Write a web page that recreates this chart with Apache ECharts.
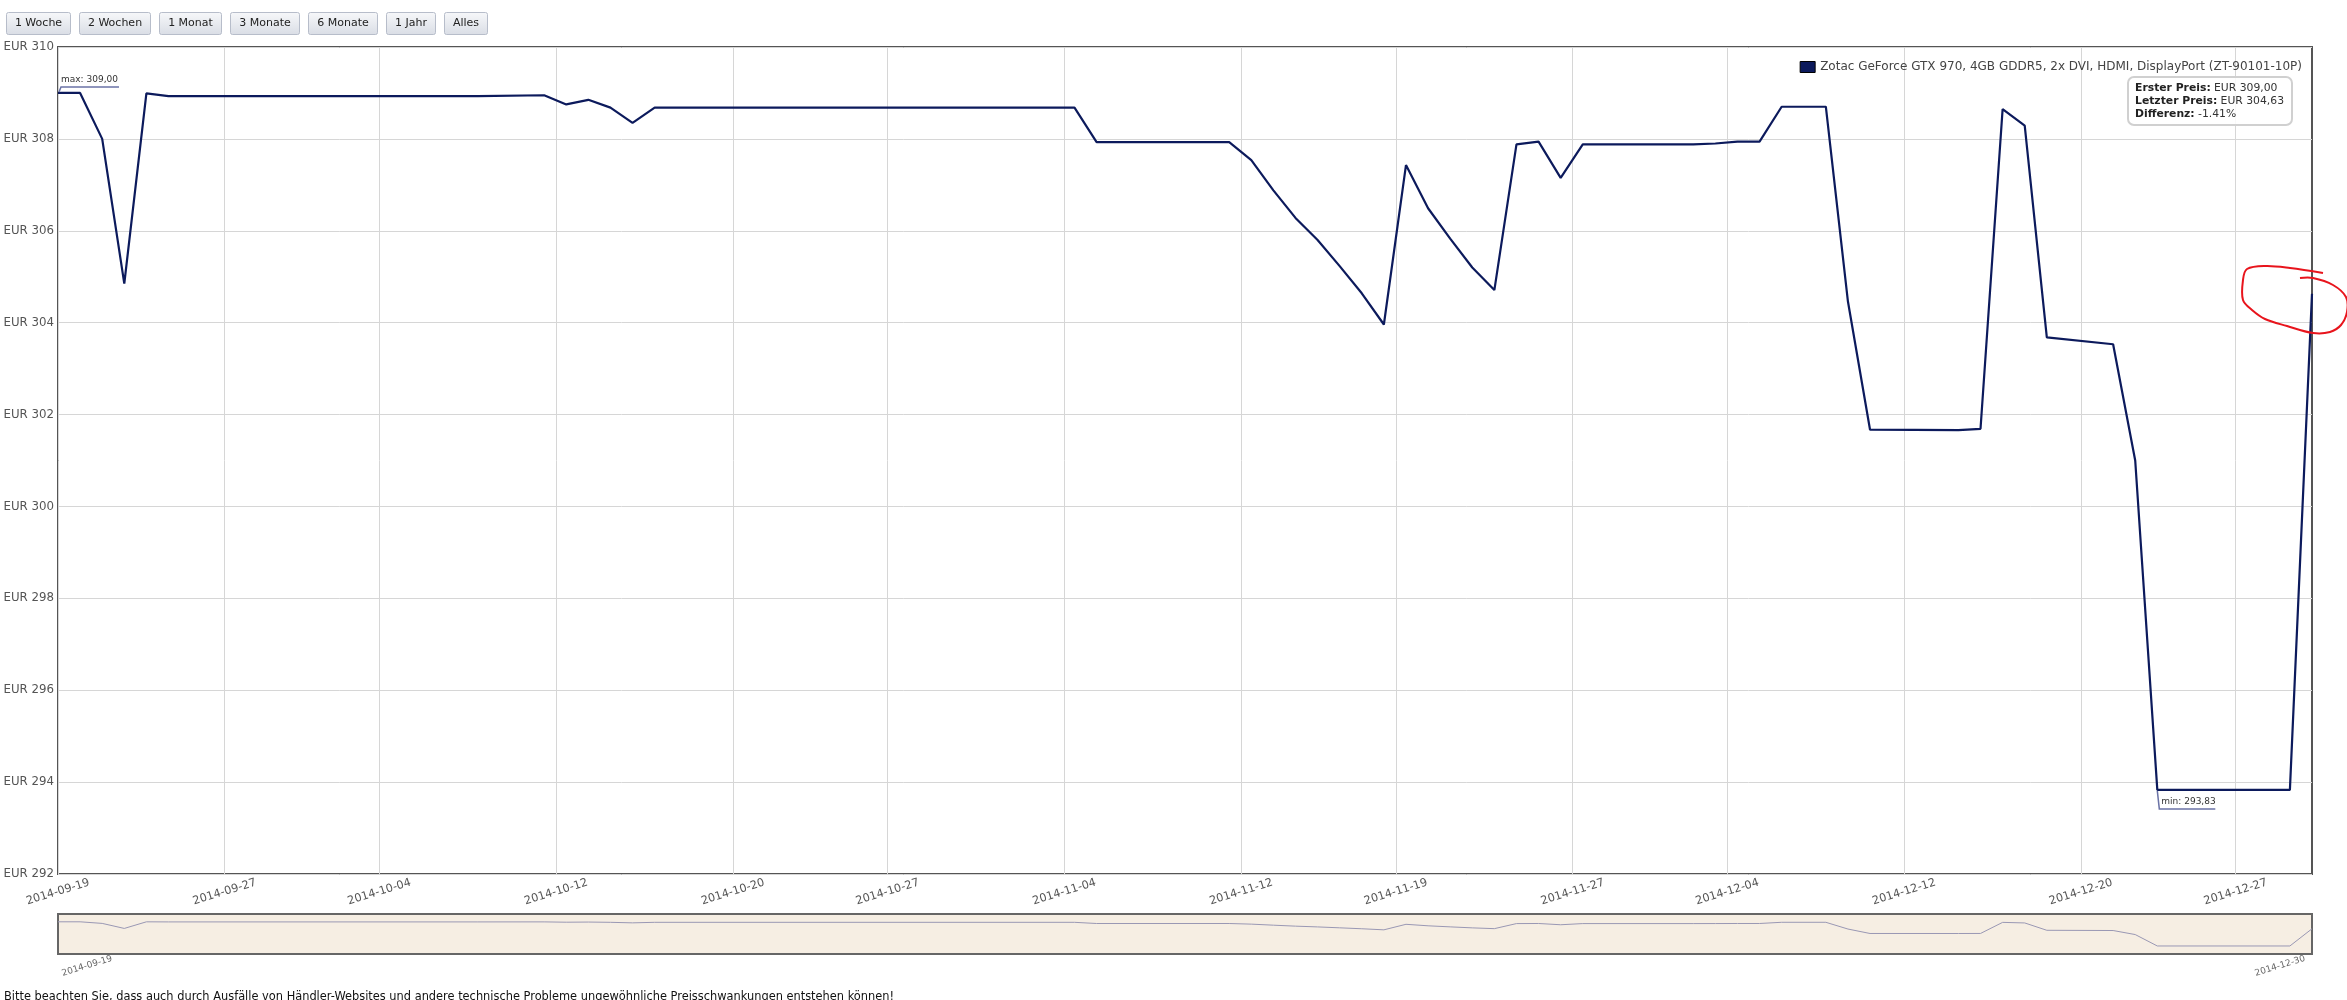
<!DOCTYPE html>
<html><head><meta charset="utf-8">
<script src="https://cdn.jsdelivr.net/npm/echarts@6/dist/echarts.min.js"></script>
<style>html,body{margin:0;padding:0;background:#fff;}#c{width:2347px;height:1000px;}</style>
</head><body><div id="c"></div>
<script>
// ---------- data ----------
const seriesName = 'Zotac GeForce GTX 970, 4GB GDDR5, 2x DVI, HDMI, DisplayPort (ZT-90101-10P)';
const dates = ['2014-09-19 11:00','2014-09-20 11:00','2014-09-21 11:00','2014-09-22 11:00','2014-09-23 11:00','2014-09-24 11:00',
  '2014-10-08 11:00','2014-10-11 11:00','2014-10-12 11:00','2014-10-13 11:00','2014-10-14 11:00','2014-10-15 11:00','2014-10-16 11:00',
  '2014-11-04 11:00','2014-11-05 11:00','2014-11-11 11:00','2014-11-12 11:00','2014-11-13 11:00','2014-11-14 11:00','2014-11-15 11:00',
  '2014-11-16 11:00','2014-11-17 11:00','2014-11-18 11:00','2014-11-19 11:00','2014-11-20 11:00','2014-11-21 11:00','2014-11-22 11:00',
  '2014-11-23 11:00','2014-11-24 11:00','2014-11-25 11:00','2014-11-26 11:00','2014-11-27 11:00','2014-12-02 11:00','2014-12-03 11:00',
  '2014-12-04 11:00','2014-12-05 11:00','2014-12-06 11:00','2014-12-08 11:00','2014-12-09 11:00','2014-12-10 11:00','2014-12-14 11:00',
  '2014-12-15 11:00','2014-12-16 11:00','2014-12-17 11:00','2014-12-18 11:00','2014-12-21 11:00','2014-12-22 11:00','2014-12-23 11:00',
  '2014-12-29 11:00','2014-12-30 11:00'];
const prices = [309.00,309.00,308.00,304.85,308.99,308.93,
  308.93,308.95,308.75,308.85,308.68,308.35,308.68,
  308.68,307.93,307.93,307.54,306.88,306.28,305.80,
  305.23,304.64,303.96,307.43,306.49,305.83,305.20,
  304.71,307.88,307.94,307.15,307.88,307.88,307.90,
  307.94,307.94,308.70,308.70,304.46,301.67,301.66,
  301.69,308.65,308.29,303.68,303.53,301.00,293.83,
  293.83,304.63];
const tickDates = ['2014-09-19 11:00','2014-09-27','2014-10-04','2014-10-12','2014-10-20','2014-10-27','2014-11-04',
  '2014-11-12','2014-11-19','2014-11-27','2014-12-04','2014-12-12','2014-12-20','2014-12-27'];
const yMin = 292, yMax = 310, yStep = 2;
const rangeButtons = ['1 Woche','2 Wochen','1 Monat','3 Monate','6 Monate','1 Jahr','Alles'];
const footnote = 'Bitte beachten Sie, dass auch durch Ausfälle von Händler-Websites und andere technische Probleme ungewöhnliche Preisschwankungen entstehen können!';

// ---------- helpers ----------
function ts(s){const m=s.match(/(\d+)-(\d+)-(\d+)(?: (\d+):(\d+))?/);return Date.UTC(+m[1],+m[2]-1,+m[3],+(m[4]||0),+(m[5]||0));}
function fmtDate(v){const d=new Date(v);const p=n=>String(n).padStart(2,'0');return d.getUTCFullYear()+'-'+p(d.getUTCMonth()+1)+'-'+p(d.getUTCDate());}
function eur(v){return v.toFixed(2).replace('.',',');}
const FONT='"DejaVu Sans", Verdana, sans-serif';
const data = dates.map((d,i)=>[ts(d),prices[i]]);
const tMin = data[0][0], tMax = data[data.length-1][0];
const ticks = tickDates.map(ts);
const first = prices[0], last = prices[prices.length-1];
const diff = (last-first)/first*100;

const chart = echarts.init(document.getElementById('c'),null,{renderer:'canvas'});
const option = {
  animation:false,
  backgroundColor:'#fff',
  textStyle:{fontFamily:FONT},
  grid:[
    {left:58,right:35,top:47,bottom:126,show:true,borderColor:'#555',borderWidth:2,backgroundColor:'transparent'},
    {left:58,right:35,top:914,height:40,show:true,borderColor:'#666',borderWidth:2,backgroundColor:'#f6eee3'}
  ],
  legend:{data:[{name:seriesName,icon:'rect'}],right:40,top:56,itemWidth:15,itemHeight:11,itemGap:6,
    textStyle:{fontSize:12,color:'#444',fontFamily:FONT},itemStyle:{borderColor:'#000',borderWidth:1}},
  title:{
    left:2128,top:77,padding:[5,8,5,7],borderColor:'#d0d0d0',borderWidth:2,borderRadius:6,backgroundColor:'rgba(255,255,255,0.85)',
    text:'{b|Erster Preis:} {n|EUR '+eur(first)+'}\n{b|Letzter Preis:} {n|EUR '+eur(last)+'}\n{b|Differenz:} {n|'+diff.toFixed(2)+'%}',
    textStyle:{fontSize:10.5,lineHeight:12.8,color:'#222',fontWeight:'normal',
      rich:{b:{fontWeight:'bold',fontSize:10.8,color:'#222',fontFamily:FONT,lineHeight:12.8},n:{fontSize:10.8,color:'#333',fontFamily:FONT,lineHeight:12.8}}}
  },
  xAxis:[
    {type:'value',gridIndex:0,min:tMin,max:tMax,scale:true,
      axisLine:{show:false},
      axisTick:{show:false,customValues:ticks},
      splitLine:{show:true,lineStyle:{color:'#d6d6d6',width:1}},
      axisLabel:{customValues:ticks,formatter:v=>fmtDate(v),rotate:17,align:'center',verticalAlign:'middle',margin:18,
        fontSize:11.3,color:'#555',fontFamily:FONT,hideOverlap:false}},
    {type:'value',gridIndex:1,min:tMin,max:tMax,scale:true,axisLine:{show:false},axisTick:{show:false},axisLabel:{show:false},splitLine:{show:false}}
  ],
  yAxis:[
    {type:'value',gridIndex:0,min:yMin,max:yMax,interval:yStep,
      axisLine:{show:false},axisTick:{show:false},
      splitLine:{show:true,lineStyle:{color:'#d6d6d6',width:1}},
      axisLabel:{formatter:'EUR {value}',fontSize:11.8,color:'#555',margin:4,fontFamily:FONT}},
    {type:'value',gridIndex:1,min:288.8,max:313.9,show:false,splitLine:{show:false}}
  ],
  series:[
    {name:seriesName,type:'line',xAxisIndex:0,yAxisIndex:0,data:data,symbol:'none',
      lineStyle:{color:'#0c1a5c',width:2.2},itemStyle:{color:'#0c1a5c'},z:5},
    {name:'nav',type:'line',xAxisIndex:1,yAxisIndex:1,data:data,symbol:'none',
      lineStyle:{color:'#9a98b4',width:1},itemStyle:{color:'#9a98b4'},silent:true}
  ]
};
chart.setOption(option);

// ---------- decorations derived from data / layout ----------
const g = [];
const cv = document.createElement('canvas').getContext('2d');
cv.font = '11px '+FONT;
let bx = 6;
rangeButtons.forEach(t=>{
  const w = Math.round(cv.measureText(t).width + 17);
  g.push({type:'group',left:bx,top:12,children:[
    {type:'rect',shape:{x:0,y:0,width:w,height:22,r:2},
      style:{fill:{type:'linear',x:0,y:0,x2:0,y2:1,colorStops:[{offset:0,color:'#f7f8fa'},{offset:1,color:'#d9dde5'}]},stroke:'#b7bdca',lineWidth:1}},
    {type:'text',style:{x:w/2,y:11,text:t,align:'center',verticalAlign:'middle',font:'11px '+FONT,fill:'#222'}}
  ]});
  bx += w + 9;
});
let iMax=0,iMin=0;
prices.forEach((p,i)=>{if(p>prices[iMax])iMax=i;if(p<prices[iMin])iMin=i;});
const pMax = chart.convertToPixel({xAxisIndex:0,yAxisIndex:0},data[iMax]);
const pMin = chart.convertToPixel({xAxisIndex:0,yAxisIndex:0},data[iMin]);
const annColor = '#6b73a6';
g.push({type:'polyline',shape:{points:[[pMax[0]+1,pMax[1]-1],[pMax[0]+3,pMax[1]-6],[pMax[0]+61,pMax[1]-6]]},style:{stroke:annColor,lineWidth:1.5,fill:null},z:20});
g.push({type:'text',style:{x:pMax[0]+3,y:pMax[1]-13,text:'max: '+eur(prices[iMax]),font:'9px '+FONT,fill:'#333',verticalAlign:'middle'},z:20});
g.push({type:'polyline',shape:{points:[[pMin[0],pMin[1]+1],[pMin[0]+2,pMin[1]+19],[pMin[0]+58,pMin[1]+19]]},style:{stroke:annColor,lineWidth:1.5,fill:null},z:20});
g.push({type:'text',style:{x:pMin[0]+4,y:pMin[1]+12,text:'min: '+eur(prices[iMin]),font:'9px '+FONT,fill:'#333',verticalAlign:'middle'},z:20});
const n0 = chart.convertToPixel({xAxisIndex:1,yAxisIndex:1},[tMin,300]);
const n1 = chart.convertToPixel({xAxisIndex:1,yAxisIndex:1},[tMax,300]);
g.push({type:'text',x:n0[0]+29,y:966,rotation:17*Math.PI/180,style:{x:0,y:0,text:fmtDate(tMin),align:'center',verticalAlign:'middle',font:'9px '+FONT,fill:'#666'}});
g.push({type:'text',x:n1[0]-32,y:966,rotation:17*Math.PI/180,style:{x:0,y:0,text:fmtDate(tMax),align:'center',verticalAlign:'middle',font:'9px '+FONT,fill:'#666'}});
g.push({type:'text',left:4,top:992,style:{text:footnote,font:'11.4px '+FONT,fill:'#111'}});
g.push({type:'polyline',shape:{smooth:0.35,points:[[2323,273],[2290,268],[2266,266],[2247,269],[2243,280],[2243,300],[2252,310],[2265,319],[2287,326],[2313,333],[2330,332],[2341,325],[2347,312],[2346,297],[2333,285],[2313,278],[2300,278]]},
  style:{stroke:'#e8141c',lineWidth:2,fill:null},z:30});
chart.setOption({graphic:g});
</script></body></html>
